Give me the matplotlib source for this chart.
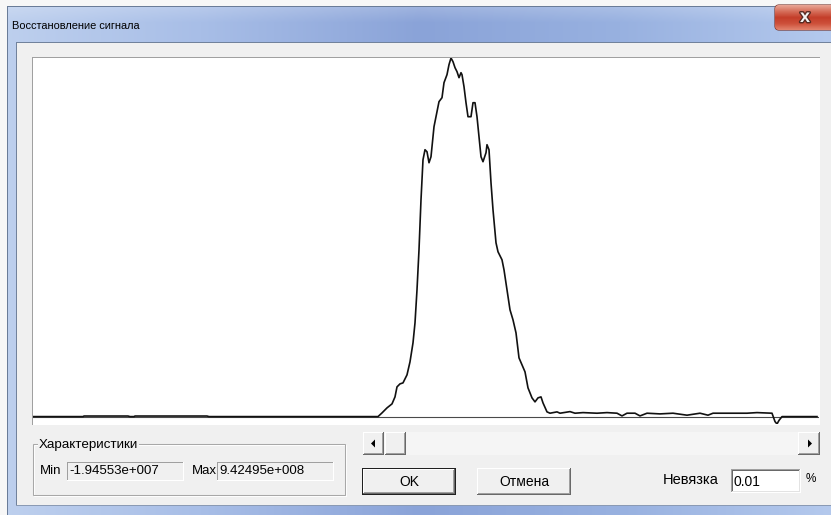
import numpy as np
import matplotlib
matplotlib.use("Agg")
import matplotlib.pyplot as plt
from matplotlib.patches import Rectangle, FancyBboxPatch, Polygon
import matplotlib.patheffects as pe

# ---------------- data ----------------
# sample index along the signal and reconstructed signal value (units of 1e8)
sample = [0, 50, 51, 95, 97, 101, 102, 174, 176, 345, 349, 354, 359, 362, 364, 367, 370,
          374, 377, 380, 382, 384, 386, 388, 390, 392, 394, 396, 398, 401, 404, 406, 409,
          411, 414, 416, 418, 420, 422, 424, 426, 428, 429, 431, 433, 435, 438, 440, 442,
          444, 446, 448, 450, 453, 454, 456, 458, 460, 463, 465, 469, 471, 474, 477, 480,
          483, 486, 489, 492, 495, 499, 502, 505, 508, 510, 514, 517, 524, 527, 537, 542,
          550, 564, 574, 584, 589, 594, 602, 607, 614, 627, 640, 654, 667, 675, 680, 700,
          714, 724, 739, 742, 744, 746, 749, 784]
signal_e8 = [0, 0, 0.015, 0.015, 0, 0, 0.015, 0.015, 0, 0, 0.097, 0.229, 0.334, 0.518, 0.781,
             0.860, 0.886, 1.097, 1.439, 1.938, 2.464, 3.332, 4.384, 5.699, 6.751, 7.014,
             6.961, 6.672, 6.830, 7.619, 8.014, 8.277, 8.382, 8.776, 8.987, 9.250, 9.42495,
             9.328, 9.171, 9.066, 8.908, 9.039, 8.987, 8.671, 8.250, 7.882, 7.882, 8.250,
             8.250, 7.882, 7.356, 6.830, 6.699, 6.935, 7.146, 7.014, 6.146, 5.436, 4.568,
             4.332, 4.121, 3.858, 3.332, 2.806, 2.543, 2.201, 1.544, 1.360, 1.176, 0.755,
             0.492, 0.387, 0.492, 0.518, 0.360, 0.124, 0.089, 0.124, 0.089, 0.131, 0.089,
             0.105, 0.089, 0.105, 0.089, 0.018, 0.089, 0.089, 0.018, 0.089, 0.071, 0.089,
             0.037, 0.089, 0.037, 0.089, 0.089, 0.089, 0.105, 0.089, -0.131, -0.194553,
             -0.10, 0.0, 0.0]
n_samples = 786
min_value = -1.94553e+007
max_value = 9.42495e+008
residual_pct = "0.01"

title = "Восстановление сигнала"
group_label = "Характеристики"
ok_label = "OK"
cancel_label = "Отмена"
residual_label = "Невязка"

# ---------------- figure ----------------
W, H = 831, 515
fig = plt.figure(figsize=(W / 100, H / 100), dpi=100)
bg = fig.add_axes([0, 0, 1, 1])
bg.set_xlim(0, W)
bg.set_ylim(H, 0)
bg.axis("off")

UI = ["Liberation Sans", "DejaVu Sans"]
TITLE_FONT = ["Liberation Sans Narrow", "Liberation Sans", "DejaVu Sans"]

# window frame gradient (Aero-like)
xs = np.arange(W)
stops_x = [0, 200, 420, 620, W]
stops_c = np.array([[190, 208, 238], [168, 190, 231], [138, 163, 216],
                    [152, 177, 224], [180, 201, 237]]) / 255.0
col = np.stack([np.interp(xs, stops_x, stops_c[:, i]) for i in range(3)], axis=-1)
img = np.tile(col[None, :, :], (H, 1, 1))
ys = np.arange(H)[:, None, None]
glow = np.clip((22 - ys) / 22.0, 0, 1) * 0.25
img = img * (1 - glow) + glow
img[:6, :, :] = 0.97
img[:, :7, :] = 0.97
bg.imshow(img, extent=(0, W, H, 0), interpolation="nearest", aspect="auto", zorder=0)


def box(x0, y0, x1, y1, fc, z=1):
    bg.add_patch(Rectangle((x0, y0), x1 - x0, y1 - y0, facecolor=fc,
                           edgecolor="none", linewidth=0, zorder=z, antialiased=False))


def bevel(x0, y0, x1, y1, tl, br, z=3):
    box(x0, y0, x1, y0 + 1, tl, z)
    box(x0, y0, x0 + 1, y1, tl, z)
    box(x0, y1 - 1, x1, y1, br, z)
    box(x1 - 1, y0, x1, y1, br, z)


# outer window edge
box(7, 6, W, 7, "#6a7c98", 1)
box(7, 6, 8, H, "#6a7c98", 1)
# inner client area
box(16, 42, W, 506, "#f0f0f0", 1)
box(16, 42, W, 43, "#71829c", 2)
box(16, 42, 17, 506, "#71829c", 2)
box(16, 505, W, 506, "#8a9ab4", 2)

# close button
cb = FancyBboxPatch((775, 5), 70, 25, boxstyle="round,pad=0,rounding_size=4",
                    facecolor="#c8503a", edgecolor="#6e2a22", linewidth=0.8, zorder=3)
bg.add_patch(cb)
grad = np.array([[232, 165, 150], [214, 110, 90], [196, 62, 42], [205, 80, 58],
                 [226, 130, 108]]) / 255.0
gimg = np.linspace(0, 4, 40)
gimg = np.stack([np.interp(gimg, np.arange(5), grad[:, i]) for i in range(3)], axis=-1)
gi = bg.imshow(gimg[:, None, :].repeat(10, axis=1), extent=(775, 845, 30, 5),
               aspect="auto", zorder=3.5, interpolation="bilinear")
gi.set_clip_path(cb)
bg.text(805, 17.5, "x", fontsize=13, fontweight="bold", color="#f4f4f4",
        family=UI, ha="center", va="center", zorder=4,
        path_effects=[pe.withStroke(linewidth=2, foreground="#5a2a22")])

# title
bg.text(12, 29, title, fontsize=7.9, family=TITLE_FONT, color="#000000",
        ha="left", va="baseline", zorder=4)

# plot area frame (sunken)
box(32, 57, 820, 425, "#ffffff", 2)
box(32, 57, 820, 58, "#a0a0a0", 3)
box(32, 57, 33, 425, "#a0a0a0", 3)

# ---------------- data axes ----------------
ax_l, ax_t, ax_r, ax_b = 33, 58, 819, 424
ax = fig.add_axes([ax_l / W, 1 - ax_b / H, (ax_r - ax_l) / W, (ax_b - ax_t) / H])
ax.set_facecolor("white")
ax.patch.set_alpha(0)
for s in ax.spines.values():
    s.set_visible(False)
ax.set_xticks([])
ax.set_yticks([])
ax.set_xlim(0, n_samples)
ax.set_ylim(min_value / 1e8, max_value / 1e8)
ax.axhline(0, color="#4a4a4a", linewidth=0.8, zorder=1)
ax.plot(sample, signal_e8, color="#111111", linewidth=1.2, zorder=2,
        solid_joinstyle="round")

# ---------------- controls ----------------
# group box
bg.add_patch(Rectangle((32.5, 443.5), 312, 51, facecolor="none", edgecolor="#a8a8a8",
                       linewidth=0.75, zorder=2))
bg.add_patch(Rectangle((33.5, 444.5), 312, 51, facecolor="none", edgecolor="#ffffff",
                       linewidth=0.75, zorder=1.9))
bg.text(39, 448, group_label, fontsize=9.6, family=UI, color="#000000", ha="left",
        va="baseline", zorder=4,
        bbox=dict(facecolor="#f0f0f0", edgecolor="none", pad=0.6))

# Min / Max read-only fields
bg.text(40, 473.5, "Min", fontsize=9.5, family=UI, ha="left", va="baseline", zorder=4)
bevel(67, 462, 184, 481, "#a0a0a0", "#ffffff")
bg.text(69, 473.5, f"{min_value:.5e}".replace("e+0", "e+00"), fontsize=9.5, family=UI,
        ha="left", va="baseline", zorder=4)
bg.text(192, 473.5, "Max", fontsize=9.5, family=UI, ha="left", va="baseline", zorder=4)
bevel(217, 462, 334, 481, "#a0a0a0", "#ffffff")
bg.text(219, 473.5, f"{max_value:.5e}".replace("e+0", "e+00"), fontsize=9.5, family=UI,
        ha="left", va="baseline", zorder=4)

# scrollbar
box(363, 432, 820, 455, "#f5f5f5", 2)
for (x0, x1) in [(363, 384), (385, 406), (798, 820)]:
    box(x0, 432, x1, 455, "#f0f0f0", 2.5)
    bevel(x0, 432, x1, 455, "#ffffff", "#696969")
    box(x0 + 1, 453, x1 - 1, 454, "#a0a0a0", 3)
    box(x1 - 2, 433, x1 - 1, 454, "#a0a0a0", 3)
bg.add_patch(Polygon([[371, 443.5], [375, 439.5], [375, 447.5]], closed=True,
                     facecolor="black", edgecolor="none", zorder=4))
bg.add_patch(Polygon([[812, 443.5], [808, 439.5], [808, 447.5]], closed=True,
                     facecolor="black", edgecolor="none", zorder=4))

# buttons
for (x0, x1, lab, default) in [(362, 456, ok_label, True), (477, 571, cancel_label, False)]:
    box(x0, 468, x1, 495, "#f0f0f0", 2.5)
    if default:
        bevel(x0, 468, x1, 495, "#202020", "#202020")
        bevel(x0 + 1, 469, x1 - 1, 494, "#ffffff", "#696969")
        box(x0 + 2, 492, x1 - 2, 493, "#a0a0a0", 3.2)
        box(x1 - 3, 470, x1 - 2, 493, "#a0a0a0", 3.2)
    else:
        bevel(x0, 468, x1, 495, "#ffffff", "#696969")
        box(x0 + 1, 493, x1 - 1, 494, "#a0a0a0", 3.2)
        box(x1 - 2, 469, x1 - 1, 494, "#a0a0a0", 3.2)
    bg.text((x0 + x1) / 2, 485.5, lab, fontsize=10, family=UI, ha="center",
            va="baseline", zorder=4)

# residual field
bg.text(663, 483.5, residual_label, fontsize=10.5, family=UI, ha="left", va="baseline",
        zorder=4)
box(731, 469, 801, 493, "#ffffff", 2.5)
bevel(731, 469, 801, 493, "#a0a0a0", "#ffffff")
bevel(732, 470, 800, 492, "#696969", "#e3e3e3")
bg.text(734, 485.5, residual_pct, fontsize=10, family=UI, ha="left", va="baseline",
        zorder=4)
bg.text(806, 482.5, "%", fontsize=8.5, family=UI, ha="left", va="baseline", zorder=4)

fig.savefig("out.png", dpi=100)
